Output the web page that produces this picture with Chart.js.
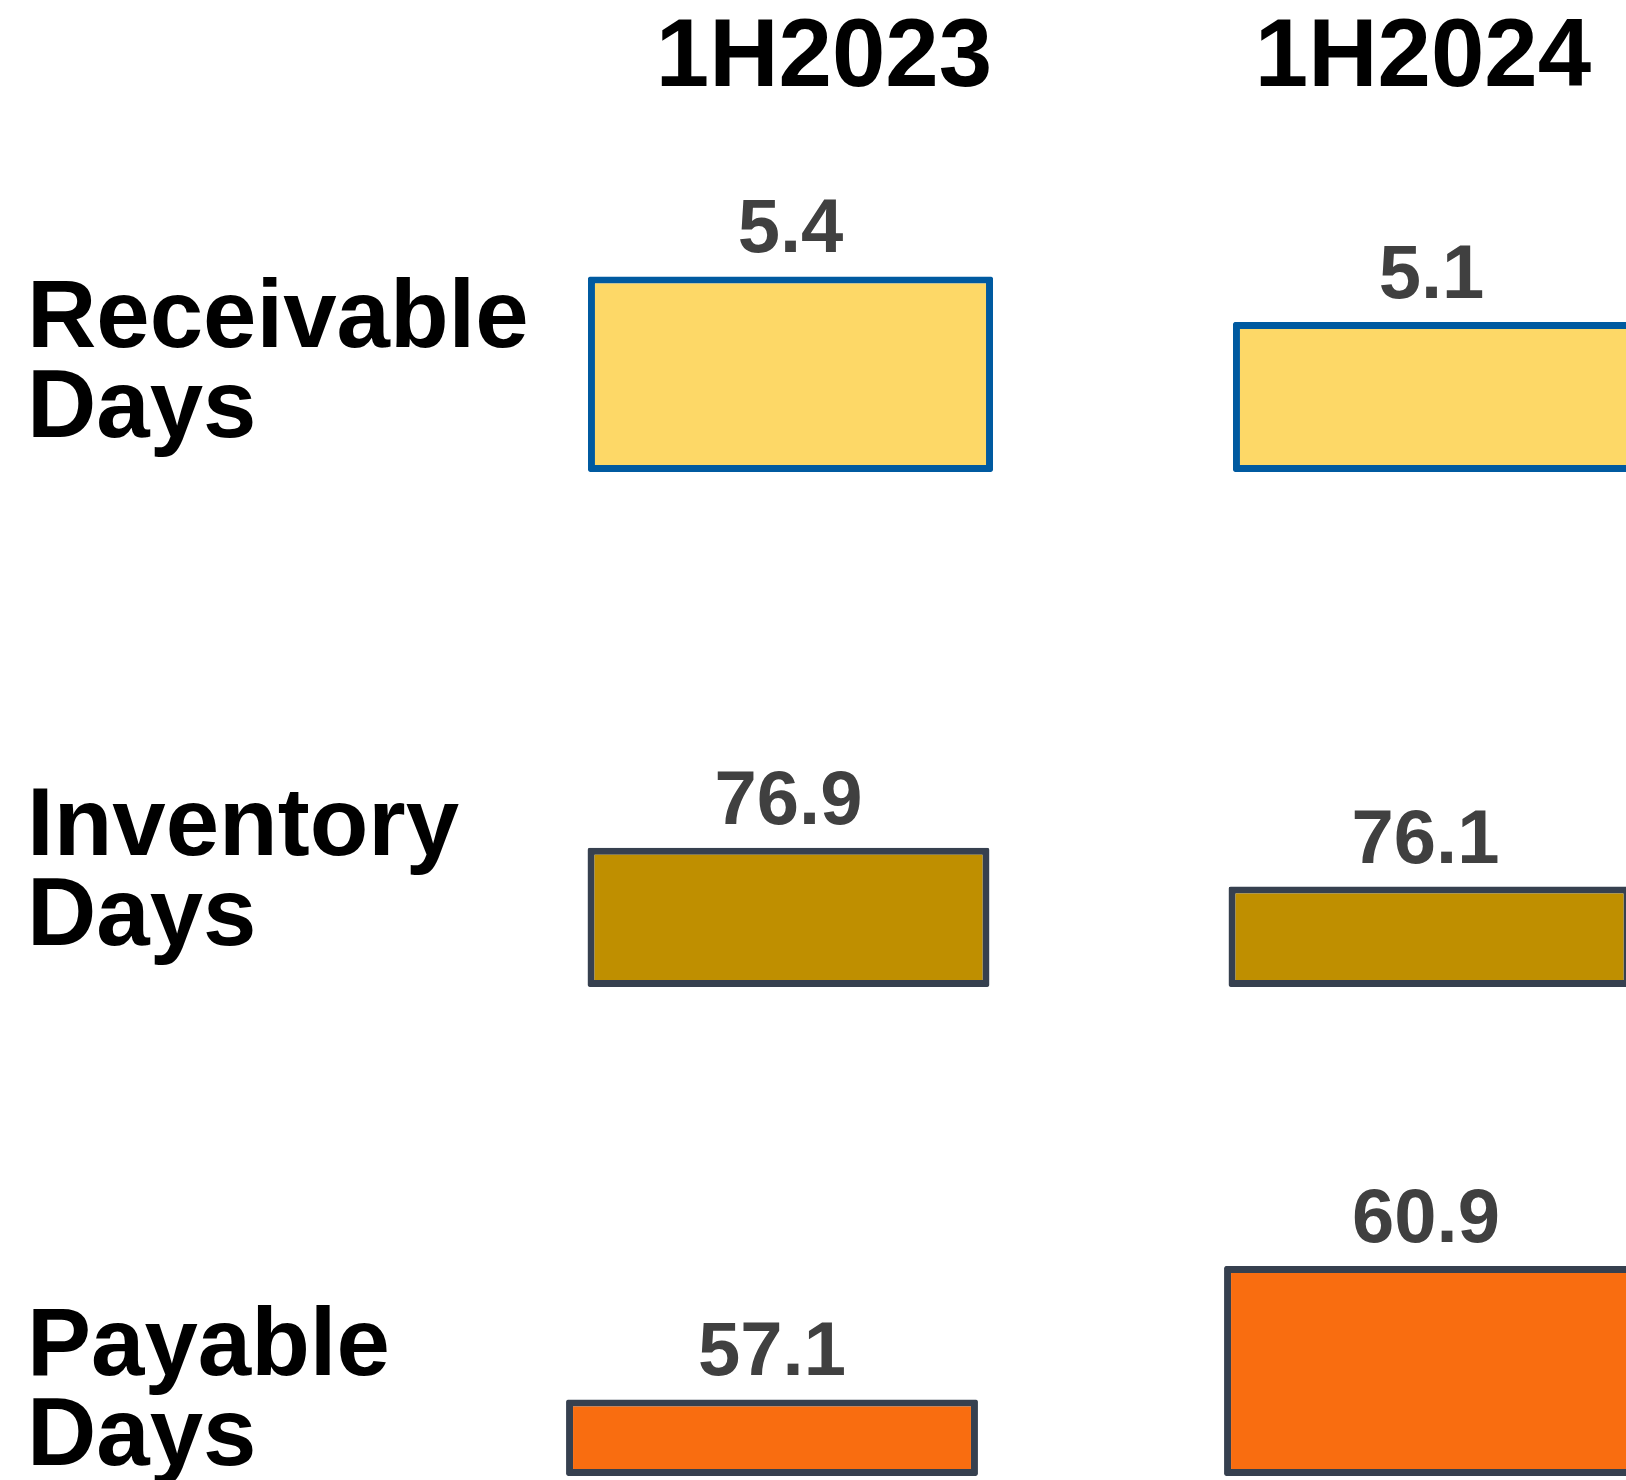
<!DOCTYPE html>
<html>
<head>
<meta charset="utf-8">
<script src="https://cdn.jsdelivr.net/npm/chart.js@4"></script>
<style>
  html, body { margin: 0; padding: 0; width: 1626px; height: 1480px; overflow: hidden; background: #fff; }
  body { position: relative; font-family: "Liberation Sans", Arial, sans-serif; }
  .header, .metric { position: absolute; font-weight: bold; color: #000; font-size: 96px; z-index: 2; }
  .header { width: 400px; text-align: center; line-height: 96px; top: 5px; }
  .metric { left: 27px; line-height: 90px; }
  canvas { position: absolute; z-index: 1; }
</style>
</head>
<body>
<script>
// Data
const periods = ['1H2023', '1H2024'];
const metrics = ['Receivable Days', 'Inventory Days', 'Payable Days'];
const receivableDays = [5.4, 5.1];
const inventoryDays = [76.9, 76.1];
const payableDays = [57.1, 60.9];

// each row has its own (truncated) value axis
const axisMin = [4.11, 74.04, 54.92];
const axisMax = [6.036, 79.93, 64.2];

// colours
const fillColors = ['#FDD867', '#BF8F00', '#F96D10'];
const borderColors = ['#005AA0', '#36404F', '#36404F'];

// placement of each row on the page
const rows = [
  { top: 180, height: 292, left: 468, width: 1290, pct: 0.628, labelTop: 269 },
  { top: 700, height: 287, left: 468, width: 1282, pct: 0.627, labelTop: 777 },
  { top: 1150, height: 326, left: 443, width: 1316, pct: 0.626, labelTop: 1297 }
];
const headerCenters = [824, 1423];
const labelShift = [0, -4];

const valueLabels = {
  id: 'valueLabels',
  afterDatasetsDraw(chart) {
    const ctx = chart.ctx;
    const values = chart.data.datasets[0].data;
    chart.getDatasetMeta(0).data.forEach((bar, i) => {
      ctx.save();
      ctx.font = 'bold 76px "Liberation Sans", Arial, sans-serif';
      ctx.fillStyle = '#404040';
      ctx.textAlign = 'center';
      ctx.textBaseline = 'alphabetic';
      ctx.fillText(values[i].toFixed(1), bar.x + labelShift[i], bar.y - 24);
      ctx.restore();
    });
  }
};

// column headers
periods.forEach((p, i) => {
  const d = document.createElement('div');
  d.className = 'header';
  d.style.left = (headerCenters[i] - 200) + 'px';
  d.textContent = p;
  document.body.appendChild(d);
});

const series = [receivableDays, inventoryDays, payableDays];

series.forEach((values, r) => {
  const row = rows[r];

  // row label
  const lbl = document.createElement('div');
  lbl.className = 'metric';
  lbl.style.top = row.labelTop + 'px';
  lbl.innerHTML = metrics[r].split(' ').join('<br>');
  document.body.appendChild(lbl);

  const canvas = document.createElement('canvas');
  canvas.width = row.width;
  canvas.height = row.height;
  canvas.style.left = row.left + 'px';
  canvas.style.top = row.top + 'px';
  document.body.appendChild(canvas);

  new Chart(canvas, {
    type: 'bar',
    data: {
      labels: periods,
      datasets: [{
        data: values,
        base: axisMin[r],
        backgroundColor: fillColors[r],
        borderColor: borderColors[r],
        borderWidth: 7,
        borderSkipped: false,
        borderRadius: 2,
        barPercentage: row.pct,
        categoryPercentage: 1
      }]
    },
    options: {
      responsive: false,
      animation: false,
      layout: { padding: 0 },
      plugins: { legend: { display: false }, tooltip: { enabled: false } },
      scales: {
        x: { display: false, offset: true },
        y: { display: false, min: axisMin[r], max: axisMax[r], beginAtZero: false }
      }
    },
    plugins: [valueLabels]
  });
});
</script>
</body>
</html>
